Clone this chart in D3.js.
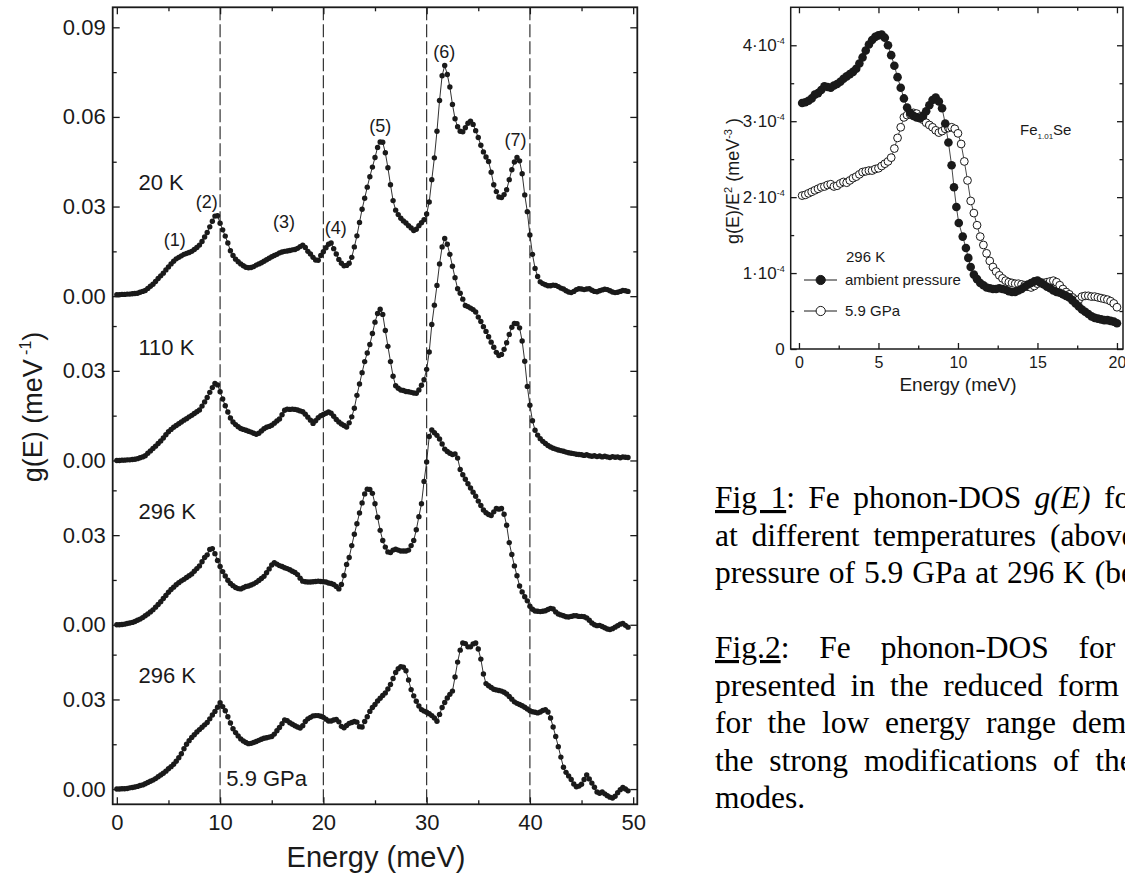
<!DOCTYPE html>
<html>
<head>
<meta charset="utf-8">
<script src="https://cdn.jsdelivr.net/npm/d3@7"></script>
<style>
  body { margin: 0; background: #fff; overflow: hidden; }
  svg { display: block; }
</style>
</head>
<body>
<div id="figure"></div>
<script>

// ---------- Fig 1: phonon DOS g(E), stacked curves, values in 1e-3 meV^-1 ----------
// energy grid of the measurement: 0 ... 49.5 meV, step 0.25 meV
const gridStart = 0
const gridStep = 0.25

const g20K = [
    0.5,0.5,0.6,0.6,0.7,0.7,0.8,0.9,1.0,1.3,1.6,1.9,2.6,3.3,4.0,4.9,5.9,6.8,7.7,8.8,
    9.8,10.8,11.7,12.5,13.0,13.5,14.0,14.3,14.6,15.0,15.6,16.3,17.1,18.3,19.8,21.3,23.2,25.1,26.8,26.9,
    24.4,22.2,20.1,17.8,15.2,13.6,12.4,11.5,10.8,10.2,9.7,9.5,9.6,9.9,10.4,10.8,11.2,11.7,12.2,12.7,
    13.2,13.6,14.0,14.5,14.8,15.0,15.1,15.3,15.5,15.6,16.0,16.6,17.1,16.3,15.0,14.1,13.0,12.1,12.0,13.6,
    14.9,16.2,17.4,17.8,15.9,14.1,12.3,11.0,10.2,10.3,11.0,13.0,16.5,20.2,24.7,29.1,32.8,36.5,40.0,43.2,
    46.4,49.8,51.6,51.5,48.0,43.0,37.3,32.0,28.8,27.3,26.1,25.2,24.5,23.6,22.8,22.0,22.4,23.6,24.6,25.6,
    27.5,31.5,39.0,46.3,55.2,65.5,73.8,77.2,74.2,70.0,64.2,59.4,56.7,55.2,55.0,56.4,57.9,58.6,57.5,55.4,
    53.1,50.5,48.3,46.6,45.1,41.5,37.3,35.0,33.2,33.0,34.0,35.6,39.0,42.3,44.9,46.4,45.3,41.0,33.9,28.3,
    20.5,14.0,9.3,6.6,4.8,4.2,3.8,3.5,3.5,3.7,3.6,3.2,2.7,2.4,1.8,1.4,1.2,1.6,2.2,2.5,
    2.4,2.2,2.4,2.5,2.0,1.6,1.5,1.8,2.1,2.3,2.2,1.8,1.4,1.2,1.3,1.6,1.9,1.8,1.6
]

const g110K = [
    0.0,0.0,0.1,0.1,0.2,0.2,0.3,0.4,0.6,0.9,1.2,1.6,2.4,3.2,4.0,4.8,5.7,6.5,7.5,8.6,
    9.6,10.4,11.1,11.7,12.3,12.9,13.5,14.0,14.6,15.1,15.7,16.3,16.9,18.2,19.6,21.1,22.8,24.4,25.8,25.3,
    23.0,20.6,18.3,16.2,14.2,12.9,12.0,11.3,10.7,10.4,10.1,9.8,9.5,9.1,8.8,9.1,9.9,10.6,11.1,11.4,
    11.8,12.5,13.2,13.9,15.3,16.8,17.2,17.1,17.2,17.1,16.9,16.6,16.3,15.5,14.5,13.5,12.4,13.3,14.3,15.0,
    15.4,15.8,16.2,15.8,14.8,13.7,12.9,12.2,11.7,11.2,12.6,14.6,17.5,21.8,25.6,29.4,33.1,36.0,38.8,42.5,
    46.3,49.2,50.6,48.9,43.5,38.2,33.1,28.2,25.0,24.2,23.6,23.4,23.1,23.0,22.8,22.6,22.5,23.6,25.2,27.0,
    30.5,36.3,45.5,52.0,58.6,65.8,71.5,74.3,72.4,69.0,65.0,61.2,57.5,56.0,54.0,51.9,51.5,51.0,50.5,49.7,
    48.0,46.5,44.8,43.2,41.4,39.6,37.9,36.2,35.1,35.5,37.2,39.4,42.2,44.6,45.9,45.8,44.4,40.0,33.2,24.8,
    18.5,13.3,10.1,8.5,7.3,6.4,5.7,5.0,4.5,4.1,3.8,3.5,3.3,3.1,2.8,2.6,2.4,2.3,2.1,2.0,
    1.9,1.7,1.9,1.6,1.4,1.6,1.3,1.5,1.2,1.4,1.2,1.0,1.3,1.1,1.2,0.9,1.2,1.1,1.0
]

const g296K = [
    0.0,0.0,0.1,0.2,0.4,0.6,0.8,1.1,1.5,1.9,2.4,3.0,3.6,4.3,5.0,5.9,6.8,7.7,8.8,9.8,
    10.9,11.8,12.6,13.4,14.1,14.7,15.2,15.8,16.4,17.0,17.9,18.8,19.7,21.1,22.5,23.4,25.2,25.5,23.8,21.5,
    19.5,17.8,16.3,14.9,13.8,13.1,12.5,12.1,12.0,12.4,12.8,13.0,13.3,13.7,14.2,14.8,15.5,16.2,17.4,18.7,
    20.0,20.8,20.3,19.8,19.5,19.1,18.8,18.4,17.9,17.5,16.8,15.6,14.6,14.4,14.3,14.3,14.4,14.5,14.6,14.5,
    14.4,14.3,14.0,13.8,13.5,12.8,12.0,13.5,16.5,20.2,22.5,26.5,30.3,33.8,37.4,40.8,43.8,45.4,45.3,44.0,
    40.5,36.0,31.6,28.2,26.0,24.4,24.2,25.0,25.3,25.0,24.7,24.7,24.7,25.0,26.5,28.2,31.8,36.2,40.5,48.0,
    54.5,63.0,65.2,64.3,63.4,62.2,60.5,58.8,58.0,57.4,57.0,57.2,55.8,52.0,50.2,48.7,47.2,45.8,44.4,43.0,
    41.4,39.9,38.4,37.5,36.9,36.6,37.8,38.9,38.7,38.9,37.0,33.3,27.5,23.5,19.7,16.4,13.0,11.0,9.4,8.0,
    6.2,5.2,4.6,4.5,4.4,4.5,4.7,5.1,5.5,5.3,4.3,3.6,3.3,3.0,2.7,2.6,2.8,3.0,3.0,2.8,
    2.8,2.7,2.3,1.5,0.6,0.0,-0.3,-0.2,-0.6,-1.0,-1.4,-1.6,-1.3,-0.8,-0.3,0.2,0.4,-0.2,-0.8
]

const g59GPa = [
    0.0,0.0,0.1,0.1,0.2,0.4,0.5,0.7,0.9,1.2,1.4,1.8,2.2,2.6,3.0,3.5,4.1,4.7,5.3,6.0,
    6.8,7.5,8.3,9.3,10.5,11.8,13.5,15.0,16.2,17.3,18.2,19.1,19.9,20.7,21.5,22.3,23.5,24.8,26.0,27.4,
    28.9,27.6,26.2,24.2,22.1,20.2,18.9,17.8,16.8,16.1,15.6,15.2,15.3,15.6,15.9,16.3,16.7,17.0,17.2,17.4,
    17.6,18.4,19.5,20.6,21.9,23.1,22.9,22.2,21.7,21.2,20.8,20.4,21.2,22.6,23.5,24.0,24.5,24.6,24.6,24.4,
    24.0,23.4,22.8,22.8,23.1,23.3,22.5,21.0,20.5,21.3,22.0,22.3,22.6,22.4,20.9,20.8,22.6,24.2,26.0,27.3,
    28.3,29.5,30.4,31.3,32.2,33.5,35.0,37.0,39.0,40.3,41.0,40.8,39.6,36.5,33.3,31.2,29.4,27.8,26.6,26.1,
    25.7,25.2,24.6,23.8,22.7,25.0,27.3,29.0,30.5,31.7,32.8,37.5,42.5,46.5,48.9,48.7,47.6,47.6,48.6,48.9,
    46.9,43.5,38.5,35.3,34.6,34.0,33.4,33.2,33.0,32.8,32.4,31.8,31.0,30.1,29.2,28.7,28.3,27.9,27.4,26.8,
    26.2,25.9,25.7,25.5,25.8,26.3,26.6,25.8,23.8,20.8,17.6,14.2,10.7,7.3,5.6,4.4,3.2,1.7,0.8,1.0,
    1.6,3.2,4.7,3.4,2.0,0.6,-1.0,-1.4,-1.0,-1.6,-2.2,-2.7,-3.0,-2.4,-1.2,-0.2,0.5,0.0,-0.6
]

const curveNames = ['20 K', '110 K', '296 K', '296 K']
const curveValues = [g20K, g110K, g296K, g59GPa]
const curveOffsets = [165, 110, 55, 0]     // stacking offset of each curve (1e-3 meV^-1)

const yMajorLocal = [0, 30]                // local tick values above each baseline
const yTopExtra = [60, 90]                 // extra ticks on the top curve
const xTicksLeft = [0, 10, 20, 30, 40, 50]
const dashedAt = [10, 20, 30, 40]

// peak labels on the 20 K curve: energy, absolute height in the stack
const peakLabels = [
    { text: '(1)', e: 5.6, v: 184 },
    { text: '(2)', e: 8.7, v: 196.5 },
    { text: '(3)', e: 16.2, v: 190 },
    { text: '(4)', e: 21.2, v: 188 },
    { text: '(5)', e: 25.5, v: 222 },
    { text: '(6)', e: 31.7, v: 247 },
    { text: '(7)', e: 38.6, v: 217.5 }
]

// ---------- Fig 2: g(E)/E^2, values in 1e-4 meV^-3 ----------
const ambientE = [
    0.2,0.4,0.6,0.8,1.0,1.2,1.4,1.6,1.8,2.0,2.2,2.4,2.6,2.8,3.0,3.2,3.4,3.6,3.8,4.0,
    4.2,4.4,4.6,4.8,5.0,5.2,5.4,5.6,5.8,6.0,6.2,6.4,6.6,6.8,7.0,7.2,7.4,7.6,7.8,8.0,
    8.2,8.4,8.6,8.8,9.0,9.2,9.4,9.6,9.75,9.9,10.05,10.3,10.5,10.65,10.8,11.0,
    11.2,11.4,11.6,11.8,12.0,12.2,12.4,12.6,12.8,13.0,13.2,13.4,13.6,13.8,14.0,
    14.2,14.4,14.6,14.8,15.0,15.2,15.4,15.6,15.8,16.0,16.2,16.4,16.6,16.8,17.0,
    17.2,17.4,17.6,17.8,18.0,18.2,18.4,18.6,18.8,19.0,19.2,19.4,19.6,19.8,20.0
]
const ambient = [
    3.24,3.25,3.27,3.30,3.35,3.37,3.41,3.46,3.45,3.44,3.47,3.49,3.52,3.56,3.59,3.62,3.65,3.69,3.76,3.84,
    3.93,4.01,4.07,4.11,4.13,4.14,4.10,4.00,3.87,3.73,3.58,3.44,3.30,3.18,3.11,3.07,3.05,3.04,3.07,3.13,
    3.21,3.28,3.31,3.26,3.17,2.97,2.72,2.42,2.13,1.87,1.66,1.48,1.33,1.20,1.08,0.98,
    0.92,0.87,0.84,0.81,0.80,0.79,0.79,0.80,0.79,0.78,0.76,0.75,0.75,0.77,0.79,
    0.82,0.85,0.87,0.89,0.90,0.88,0.85,0.82,0.80,0.77,0.75,0.74,0.72,0.70,0.68,
    0.64,0.60,0.56,0.52,0.49,0.46,0.43,0.41,0.40,0.39,0.38,0.38,0.37,0.36,0.34
]
const pressureE = [
    0.2,0.4,0.6,0.8,1.0,1.2,1.4,1.6,1.8,2.0,2.2,2.4,2.6,2.8,3.0,3.2,3.4,3.6,3.8,4.0,
    4.2,4.4,4.6,4.8,5.0,5.2,5.4,5.6,5.8,6.0,6.2,6.4,6.6,6.8,7.0,7.2,7.4,7.6,7.8,8.0,
    8.2,8.4,8.6,8.8,9.0,9.2,9.4,9.6,9.8,10.0,10.2,10.4,10.6,10.8,11.0,11.2,11.4,11.6,11.8,12.0,
    12.2,12.4,12.6,12.8,13.0,13.2,13.4,13.6,13.8,14.0,14.2,14.4,14.6,14.8,15.0,15.2,15.4,15.6,15.8,16.0,
    16.2,16.4,16.6,16.8,17.0,17.2,17.4,17.6,17.8,18.0,18.2,18.4,18.6,18.8,19.0,19.2,19.4,19.6,19.8,20.0
]
const pressure59 = [
    2.02,2.03,2.05,2.07,2.09,2.11,2.13,2.14,2.16,2.17,2.14,2.15,2.18,2.20,2.19,2.22,2.25,2.27,2.30,2.33,
    2.34,2.35,2.35,2.37,2.38,2.41,2.44,2.47,2.52,2.64,2.78,2.92,3.05,3.08,3.09,3.11,3.10,3.06,3.02,2.98,
    2.95,2.92,2.88,2.85,2.87,2.90,2.91,2.92,2.90,2.84,2.70,2.47,2.22,1.95,1.79,1.63,1.48,1.37,1.26,1.16,
    1.08,1.02,0.97,0.93,0.90,0.88,0.87,0.86,0.86,0.85,0.84,0.82,0.81,0.83,0.86,0.87,0.87,0.88,0.89,0.90,
    0.88,0.84,0.79,0.75,0.72,0.68,0.65,0.65,0.69,0.70,0.70,0.69,0.69,0.68,0.67,0.66,0.65,0.63,0.60,0.55
]
const xTicksRight = [0, 5, 10, 15, 20]
const yTicksRight = [0, 1, 2, 3, 4]
const legendItems = [
    { label: 'ambient pressure', filled: true },
    { label: '5.9 GPa', filled: false }
]

// ---------- caption text lines (the page cuts them at its right edge) ----------
const captionLines = [
    { parts: [['u', 'Fig 1'], ['', ': Fe phonon-DOS '], ['i', 'g(E)'], ['', ' for']], ws: 5.5 },
    { parts: [['', 'at different temperatures (above)']], ws: 6 },
    { parts: [['', 'pressure of 5.9 GPa at 296 K (below)']], ws: 1 },
    null,
    { parts: [['u', 'Fig.2'], ['', ': Fe phonon-DOS for']], ws: 22 },
    { parts: [['', 'presented in the reduced form']], ws: 7 },
    { parts: [['', 'for the low energy range demonstrates']], ws: 8 },
    { parts: [['', 'the strong modifications of the']], ws: 8 },
    { parts: [['', 'modes.']], ws: 0 }
]

const sans = 'Liberation Sans, Arial, Helvetica, sans-serif'
const serif = 'Liberation Serif, Times New Roman, serif'
const ink = '#1a1a1a'

const svg = d3.select('#figure')
    .append('svg')
        .attr('width', 1125)
        .attr('height', 877)
        .style('background', '#fff')

// ======================= left panel =======================
const L = { left: 112.7, right: 637.3, top: 7.3, bottom: 804.3 }

const x = d3.scaleLinear().domain([-0.4, 50.4]).range([L.left, L.right])
const y = d3.scaleLinear().domain([-5.1, 261.7]).range([L.bottom, L.top])

const left = svg.append('g')

// dashed guide lines
left.selectAll('.guide')
    .data(dashedAt)
    .enter()
    .append('line')
        .attr('class', 'guide')
        .attr('x1', d => x(d)).attr('x2', d => x(d))
        .attr('y1', L.top).attr('y2', L.bottom)
        .style('stroke', '#333')
        .style('stroke-width', 1.2)
        .style('stroke-dasharray', '13,4')

// y ticks: 0.00 / 0.03 for every curve, plus 0.06 / 0.09 on top
const yMajor = []
curveOffsets.forEach(off => yMajorLocal.forEach(t => yMajor.push({ v: off + t, label: (t / 1000).toFixed(2) })))
yTopExtra.forEach(t => yMajor.push({ v: curveOffsets[0] + t, label: (t / 1000).toFixed(2) }))
const yMinor = []
curveOffsets.forEach(off => [15, 45].forEach(t => yMinor.push(off + t)))
yMinor.push(curveOffsets[0] + 75)

const labelOf = new Map(yMajor.map(d => [d.v, d.label]))

function styleAxis(g) {
    g.select('.domain').remove()
    g.selectAll('.tick line').style('stroke', ink).style('stroke-width', 1.3)
    g.selectAll('.tick text').style('fill', ink)
}

left.append('g')
    .attr('transform', `translate(${L.left},0)`)
    .call(d3.axisLeft(y).tickValues(yMajor.map(d => d.v)).tickFormat(d => labelOf.get(d))
        .tickSize(-7).tickPadding(7))
    .call(styleAxis)
    .style('font-family', sans).style('font-size', '22px')

left.append('g')
    .attr('transform', `translate(${L.left},0)`)
    .call(d3.axisLeft(y).tickValues(yMinor).tickFormat('').tickSize(-4))
    .call(styleAxis)

left.append('g')
    .attr('transform', `translate(${L.right},0)`)
    .call(d3.axisRight(y).tickValues(yMajor.map(d => d.v)).tickFormat('').tickSize(-7))
    .call(styleAxis)

left.append('g')
    .attr('transform', `translate(${L.right},0)`)
    .call(d3.axisRight(y).tickValues(yMinor).tickFormat('').tickSize(-4))
    .call(styleAxis)

left.append('g')
    .attr('transform', `translate(0,${L.bottom})`)
    .call(d3.axisBottom(x).tickValues(xTicksLeft).tickSize(-7).tickPadding(10))
    .call(styleAxis)
    .style('font-family', sans).style('font-size', '22px')

left.append('g')
    .attr('transform', `translate(0,${L.bottom})`)
    .call(d3.axisBottom(x).tickValues([5, 15, 25, 35, 45]).tickFormat('').tickSize(-4))
    .call(styleAxis)

left.append('g')
    .attr('transform', `translate(0,${L.top})`)
    .call(d3.axisTop(x).tickValues(xTicksLeft).tickFormat('').tickSize(-7))
    .call(styleAxis)

left.append('g')
    .attr('transform', `translate(0,${L.top})`)
    .call(d3.axisTop(x).tickValues([5, 15, 25, 35, 45]).tickFormat('').tickSize(-4))
    .call(styleAxis)

left.append('rect')
    .attr('x', L.left).attr('y', L.top)
    .attr('width', L.right - L.left).attr('height', L.bottom - L.top)
    .style('fill', 'none').style('stroke', ink).style('stroke-width', 1.8)

// curves
const line = d3.line().x(d => x(d.e)).y(d => y(d.v))

curveValues.forEach((vals, i) => {
    const pts = vals.map((v, k) => ({ e: gridStart + k * gridStep, v: v + curveOffsets[i] }))
    const cg = left.append('g')
    cg.append('path')
        .datum(pts)
        .attr('d', line)
        .style('fill', 'none').style('stroke', ink).style('stroke-width', 0.9)
    cg.selectAll('circle')
        .data(pts)
        .enter()
        .append('circle')
            .attr('cx', d => x(d.e))
            .attr('cy', d => y(d.v))
            .attr('r', 2.7)
            .style('fill', ink)

    // temperature label
    left.append('text')
        .attr('x', x(2.1))
        .attr('y', y(curveOffsets[i] + 38))
        .attr('dy', '0.35em')
        .style('font-family', sans).style('font-size', '22px').style('fill', ink)
        .text(curveNames[i])
})

left.append('text')
    .attr('x', x(10.6)).attr('y', y(3.7))
    .attr('dy', '0.35em')
    .style('font-family', sans).style('font-size', '22px').style('fill', ink)
    .text('5.9 GPa')

left.selectAll('.peak')
    .data(peakLabels)
    .enter()
    .append('text')
        .attr('class', 'peak')
        .attr('x', d => x(d.e)).attr('y', d => y(d.v))
        .attr('dy', '0.35em')
        .attr('text-anchor', 'middle')
        .style('font-family', sans).style('font-size', '18px').style('fill', ink)
        .text(d => d.text)

// axis titles
left.append('text')
    .attr('x', 376).attr('y', 867)
    .attr('text-anchor', 'middle')
    .style('font-family', sans).style('font-size', '29px').style('fill', ink)
    .text('Energy (meV)')

const yTitle = left.append('text')
    .attr('transform', 'translate(42,407) rotate(-90)')
    .attr('text-anchor', 'middle')
    .style('font-family', sans).style('font-size', '27px').style('fill', ink)
yTitle.append('tspan').text('g(E)  (meV')
yTitle.append('tspan').attr('dy', -11).style('font-size', '16px').text(' -1')
yTitle.append('tspan').attr('dy', 11).text(')')

// ======================= right panel =======================
const R = { left: 790.7, right: 1123, top: 7.3, bottom: 349 }
const xr = d3.scaleLinear().domain([-0.52, 20.38]).range([R.left, R.right])
const yr = d3.scaleLinear().domain([0, 4.5]).range([R.bottom, R.top])

const right = svg.append('g')

right.append('g')
    .attr('transform', `translate(0,${R.bottom})`)
    .call(d3.axisBottom(xr).tickValues(xTicksRight).tickSize(-6).tickPadding(8))
    .call(styleAxis)
    .style('font-family', sans).style('font-size', '16px')
right.append('g')
    .attr('transform', `translate(0,${R.bottom})`)
    .call(d3.axisBottom(xr).tickValues([2.5, 7.5, 12.5, 17.5]).tickFormat('').tickSize(-3.5))
    .call(styleAxis)
right.append('g')
    .attr('transform', `translate(0,${R.top})`)
    .call(d3.axisTop(xr).tickValues(xTicksRight).tickFormat('').tickSize(-6))
    .call(styleAxis)
right.append('g')
    .attr('transform', `translate(0,${R.top})`)
    .call(d3.axisTop(xr).tickValues([2.5, 7.5, 12.5, 17.5]).tickFormat('').tickSize(-3.5))
    .call(styleAxis)

right.append('g')
    .attr('transform', `translate(${R.left},0)`)
    .call(d3.axisLeft(yr).tickValues(yTicksRight).tickSize(-6).tickPadding(6))
    .call(styleAxis)
    .style('font-family', sans).style('font-size', '17px')
    .selectAll('.tick text')
    .each(function(d) {
        const t = d3.select(this)
        t.text(null)
        if (d === 0) { t.text('0'); return }
        t.append('tspan').text(d + '·10')
        t.append('tspan').attr('dy', -7).style('font-size', '9px').text('-4')
    })
right.append('g')
    .attr('transform', `translate(${R.left},0)`)
    .call(d3.axisLeft(yr).tickValues([0.5, 1.5, 2.5, 3.5]).tickFormat('').tickSize(-3.5))
    .call(styleAxis)
right.append('g')
    .attr('transform', `translate(${R.right},0)`)
    .call(d3.axisRight(yr).tickValues(yTicksRight).tickFormat('').tickSize(-6))
    .call(styleAxis)
right.append('g')
    .attr('transform', `translate(${R.right},0)`)
    .call(d3.axisRight(yr).tickValues([0.5, 1.5, 2.5, 3.5]).tickFormat('').tickSize(-3.5))
    .call(styleAxis)

right.append('rect')
    .attr('x', R.left).attr('y', R.top)
    .attr('width', R.right - R.left).attr('height', R.bottom - R.top)
    .style('fill', 'none').style('stroke', ink).style('stroke-width', 1.5)

const lineR = d3.line().x(d => xr(d.e)).y(d => yr(d.v))
const openPts = pressureE.map((e, k) => ({ e, v: pressure59[k] }))
const fullPts = ambientE.map((e, k) => ({ e, v: ambient[k] }))

right.append('path').datum(openPts).attr('d', lineR)
    .style('fill', 'none').style('stroke', ink).style('stroke-width', 0.8)
right.selectAll('.open')
    .data(openPts)
    .enter()
    .append('circle')
        .attr('class', 'open')
        .attr('cx', d => xr(d.e)).attr('cy', d => yr(d.v))
        .attr('r', 3.9)
        .style('fill', '#fff').style('stroke', ink).style('stroke-width', 1)

right.append('path').datum(fullPts).attr('d', lineR)
    .style('fill', 'none').style('stroke', ink).style('stroke-width', 0.8)
right.selectAll('.full')
    .data(fullPts)
    .enter()
    .append('circle')
        .attr('class', 'full')
        .attr('cx', d => xr(d.e)).attr('cy', d => yr(d.v))
        .attr('r', 4.3)
        .style('fill', ink)

// legend
right.append('text')
    .attr('x', 846).attr('y', 257).attr('dy', '0.35em')
    .style('font-family', sans).style('font-size', '15px').style('fill', ink)
    .text('296 K')

const leg = right.selectAll('.leg')
    .data(legendItems)
    .enter()
    .append('g')
        .attr('class', 'leg')
        .attr('transform', (d, i) => `translate(0,${280 + i * 31})`)
leg.append('line')
    .attr('x1', 804).attr('x2', 837)
    .style('stroke', ink).style('stroke-width', 1)
leg.append('circle')
    .attr('cx', 820.7).attr('r', 4.6)
    .style('fill', d => d.filled ? ink : '#fff')
    .style('stroke', ink).style('stroke-width', 1)
leg.append('text')
    .attr('x', 845).attr('dy', '0.35em')
    .style('font-family', sans).style('font-size', '15px').style('fill', ink)
    .text(d => d.label)

const fe = right.append('text')
    .attr('x', 1020).attr('y', 135)
    .style('font-family', sans).style('font-size', '15px').style('fill', ink)
fe.append('tspan').text('Fe')
fe.append('tspan').attr('dy', 4).style('font-size', '8px').text('1.01')
fe.append('tspan').attr('dy', -4).text('Se')

right.append('text')
    .attr('x', 958).attr('y', 391)
    .attr('text-anchor', 'middle')
    .style('font-family', sans).style('font-size', '19px').style('fill', ink)
    .text('Energy (meV)')

const yTitleR = right.append('text')
    .attr('transform', 'translate(739,181) rotate(-90)')
    .attr('text-anchor', 'middle')
    .style('font-family', sans).style('font-size', '18px').style('fill', ink)
yTitleR.append('tspan').text('g(E)/E')
yTitleR.append('tspan').attr('dy', -7).style('font-size', '11px').text('2')
yTitleR.append('tspan').attr('dy', 7).text(' (meV')
yTitleR.append('tspan').attr('dy', -7).style('font-size', '11px').text('-3')
yTitleR.append('tspan').attr('dy', 7).text(' )')

// ======================= caption =======================
const cap = svg.append('g')
    .style('font-family', serif).style('font-size', '31.5px').style('fill', '#000')

captionLines.forEach((ln, i) => {
    if (!ln) return
    const t = cap.append('text')
        .attr('x', 715).attr('y', 508 + i * 37.5)
        .attr('word-spacing', ln.ws)
    ln.parts.forEach(([kind, str]) => {
        const s = t.append('tspan').text(str)
        if (kind === 'u') s.attr('text-decoration', 'underline')
        if (kind === 'i') s.style('font-style', 'italic')
    })
})

</script>
</body>
</html>
